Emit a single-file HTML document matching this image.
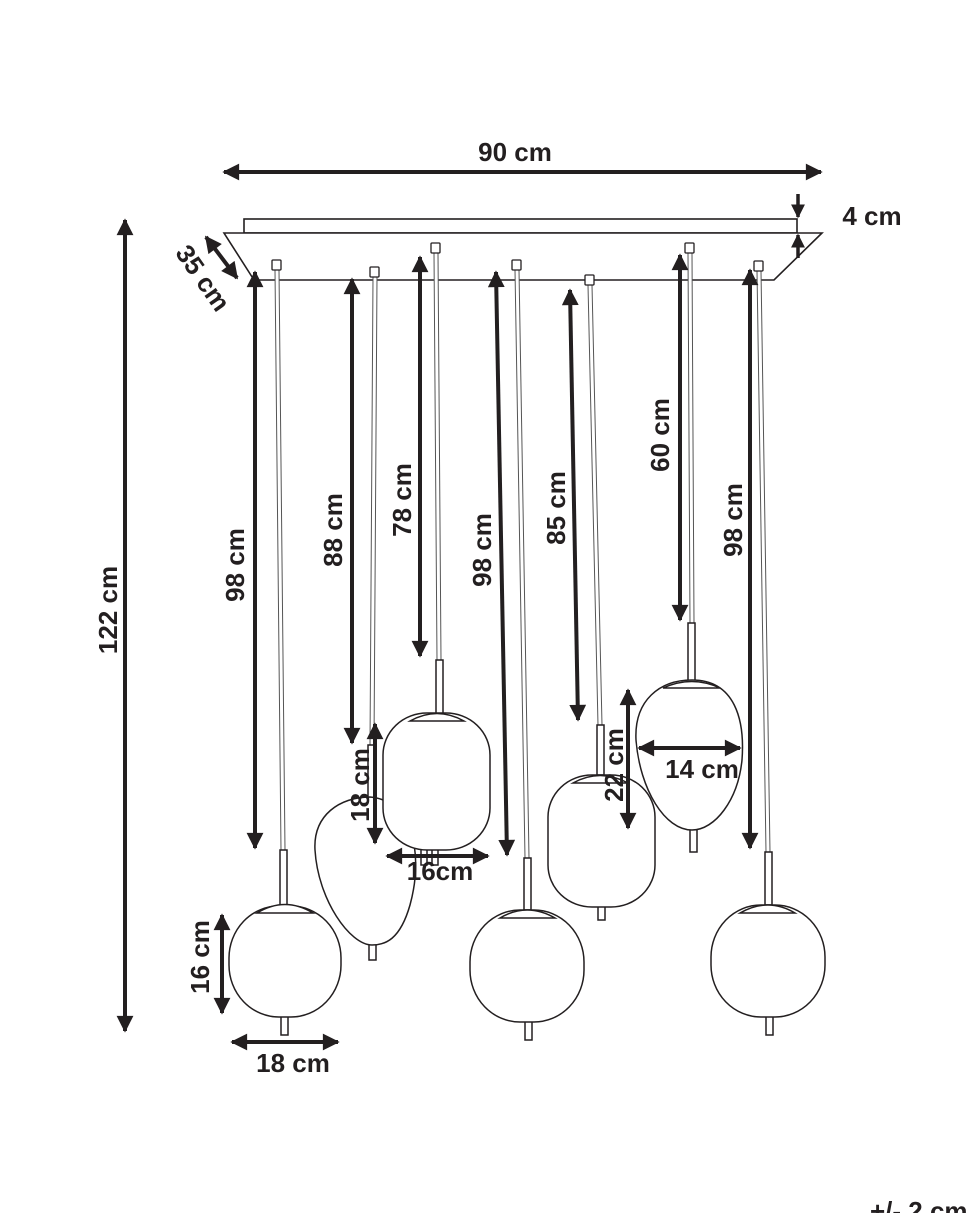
<!DOCTYPE html>
<html><head><meta charset="utf-8"><style>
html,body{margin:0;padding:0;background:#fff;}
svg{display:block;}
text{font-family:"Liberation Sans",sans-serif;font-weight:bold;font-size:26px;fill:#231f20;}
</style></head><body>
<svg width="970" height="1213" viewBox="0 0 970 1213" xmlns="http://www.w3.org/2000/svg">
<defs>
<marker id="a" viewBox="0 0 10 10" refX="9" refY="5" markerWidth="4.6" markerHeight="4.2" orient="auto-start-reverse" markerUnits="strokeWidth">
<path d="M0,0 L10,5 L0,10 z" fill="#231f20"/>
</marker>
<marker id="b" viewBox="0 0 10 10" refX="9" refY="5" markerWidth="4" markerHeight="4.5" orient="auto-start-reverse" markerUnits="strokeWidth">
<path d="M0,0 L10,5 L0,10 z" fill="#231f20"/>
</marker>
</defs>
<g fill="none" stroke="#231f20" stroke-width="1.6">
<rect x="244" y="219" width="553" height="14" fill="#fff"/>
<polygon points="224,233 822,233 774,280 254,280" fill="#fff"/>
</g>
<g fill="#fff" stroke="#555" stroke-width="1">
<polygon points="275,270 279,270 285,850 281,850"/>
<polygon points="373,277 377,277 374,745 370,745"/>
<polygon points="434,253 438,253 441,660 437,660"/>
<polygon points="515,270 519,270 529,858 525,858"/>
<polygon points="588,285 592,285 602,725 598,725"/>
<polygon points="688,253 692,253 694,623 690,623"/>
<polygon points="757,271 761,271 770,852 766,852"/>
</g>
<g fill="#fff" stroke="#231f20" stroke-width="1.3">
<rect x="272" y="260" width="9" height="10" rx="1"/>
<rect x="370" y="267" width="9" height="10" rx="1"/>
<rect x="431" y="243" width="9" height="10" rx="1"/>
<rect x="512" y="260" width="9" height="10" rx="1"/>
<rect x="585" y="275" width="9" height="10" rx="1"/>
<rect x="685" y="243" width="9" height="10" rx="1"/>
<rect x="754" y="261" width="9" height="10" rx="1"/>
</g>
<g fill="#fff" stroke="#231f20" stroke-width="1.5">
<rect x="280" y="850" width="7" height="55"/>
<rect x="281" y="1010" width="7" height="25"/>
<rect x="229" y="906" width="112" height="111" rx="50" ry="52"/>
<path d="M257,913 Q285,896 313,913 Z"/>
<rect x="368" y="745" width="7" height="55"/>
<rect x="369" y="938" width="7" height="22"/>
<path d="M370,797 C410,800 425,850 410,905 C400,940 385,945 372,945 C350,945 318,900 315,850 C313,815 340,797 370,797 Z"/>
<rect x="436" y="660" width="7" height="55"/>
<rect x="421" y="845" width="6" height="20"/><rect x="432" y="845" width="6" height="20"/>
<rect x="383" y="713" width="107" height="137" rx="44" ry="42"/>
<path d="M410,721 Q437,706 464,721 Z"/>
<rect x="524" y="858" width="7" height="52"/>
<rect x="525" y="1018" width="7" height="22"/>
<rect x="470" y="910" width="114" height="112" rx="50" ry="52"/>
<path d="M500,918 Q527,902 555,918 Z"/>
<rect x="597" y="725" width="7" height="50"/>
<rect x="598" y="903" width="7" height="17"/>
<rect x="548" y="775" width="107" height="132" rx="44" ry="42"/>
<path d="M573,783 Q600,768 628,783 Z"/>
<rect x="688" y="623" width="7" height="58"/>
<rect x="690" y="828" width="7" height="24"/>
<path d="M692,680 C735,680 745,720 742,760 C738,800 715,830 692,830 C665,830 640,790 636,740 C634,700 660,680 692,680 Z"/>
<path d="M663,688 Q692,675 720,688 Z"/>
<rect x="765" y="852" width="7" height="53"/>
<rect x="766" y="1012" width="7" height="23"/>
<rect x="711" y="905" width="114" height="112" rx="50" ry="52"/>
<path d="M740,913 Q768,897 795,913 Z"/>
</g>
<g stroke="#231f20" stroke-width="4" fill="none" marker-start="url(#a)" marker-end="url(#a)">
<line x1="224" y1="172" x2="821" y2="172"/>
<line x1="206" y1="237" x2="237" y2="278"/>
<line x1="125" y1="220" x2="125" y2="1031"/>
<line x1="255" y1="272" x2="255" y2="848"/>
<line x1="352" y1="279" x2="352" y2="743"/>
<line x1="420" y1="257" x2="420" y2="656"/>
<line x1="496" y1="272" x2="507" y2="855"/>
<line x1="570" y1="290" x2="578" y2="720"/>
<line x1="680" y1="255" x2="680" y2="620"/>
<line x1="750" y1="270" x2="750" y2="848"/>
<line x1="375" y1="724" x2="375" y2="843"/>
<line x1="387" y1="856" x2="488" y2="856"/>
<line x1="628" y1="690" x2="628" y2="828"/>
<line x1="639" y1="748" x2="740" y2="748"/>
<line x1="222" y1="915" x2="222" y2="1013"/>
<line x1="232" y1="1042" x2="338" y2="1042"/>
</g>
<g stroke="#231f20" stroke-width="3.5" fill="none" marker-end="url(#b)">
<line x1="798" y1="194" x2="798" y2="217"/>
<line x1="798" y1="258" x2="798" y2="235"/>
</g>
<text x="515" y="161" text-anchor="middle">90 cm</text>
<text x="872" y="225" text-anchor="middle">4 cm</text>
<text transform="translate(203,278) rotate(55)" text-anchor="middle" dy="9">35 cm</text>
<text transform="translate(108,610) rotate(-90)" text-anchor="middle" dy="9">122 cm</text>
<text transform="translate(235,565) rotate(-90)" text-anchor="middle" dy="9">98 cm</text>
<text transform="translate(333,530) rotate(-90)" text-anchor="middle" dy="9">88 cm</text>
<text transform="translate(402,500) rotate(-90)" text-anchor="middle" dy="9">78 cm</text>
<text transform="translate(482,550) rotate(-90)" text-anchor="middle" dy="9">98 cm</text>
<text transform="translate(556,508) rotate(-90)" text-anchor="middle" dy="9">85 cm</text>
<text transform="translate(660,435) rotate(-90)" text-anchor="middle" dy="9">60 cm</text>
<text transform="translate(733,520) rotate(-90)" text-anchor="middle" dy="9">98 cm</text>
<text transform="translate(360,785) rotate(-90)" text-anchor="middle" dy="9">18 cm</text>
<text x="440" y="880" text-anchor="middle">16cm</text>
<text transform="translate(614,765) rotate(-90)" text-anchor="middle" dy="9">22 cm</text>
<text x="702" y="778" text-anchor="middle">14 cm</text>
<text transform="translate(200,957) rotate(-90)" text-anchor="middle" dy="9">16 cm</text>
<text x="293" y="1072" text-anchor="middle">18 cm</text>
<text x="870" y="1220">+/- 2 cm</text>
</svg>
</body></html>
